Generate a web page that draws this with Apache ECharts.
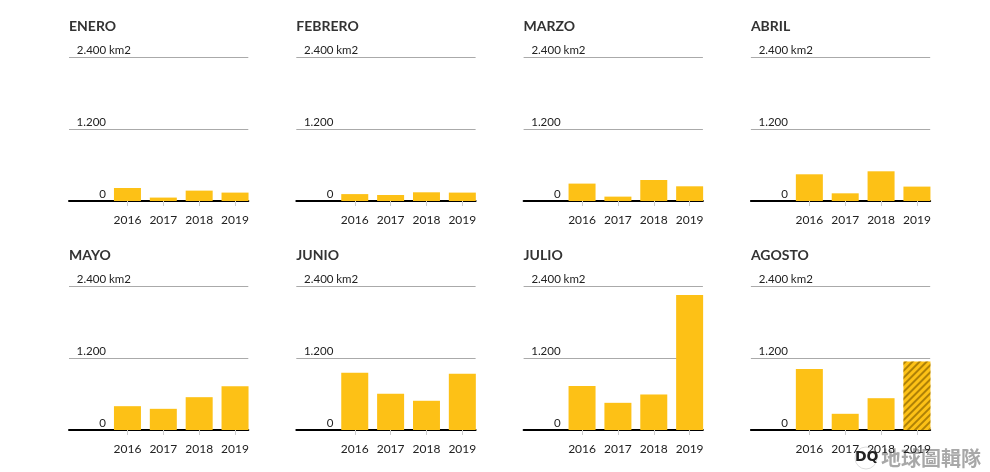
<!DOCTYPE html>
<html>
<head>
<meta charset="utf-8">
<script src="https://cdn.jsdelivr.net/npm/echarts@6/dist/echarts.min.js"></script>
<style>
  html, body { margin: 0; padding: 0; background: #fff; }
  #chart { width: 990px; height: 472px; }
</style>
</head>
<body>
<div id="chart"></div>
<script>
// superficie por mes (km2)
var months = ['ENERO', 'FEBRERO', 'MARZO', 'ABRIL', 'MAYO', 'JUNIO', 'JULIO', 'AGOSTO'];
var years = [2016, 2017, 2018, 2019];
var enero = [217, 57, 173, 140];
var febrero = [115, 100, 145, 140];
var marzo = [290, 73, 350, 245];
var abril = [445, 128, 495, 240];
var mayo = [397, 353, 547, 730];
var junio = [953, 603, 487, 937];
var julio = [733, 453, 592, 2250];
var agosto = [1015, 270, 530, 1140];
var yTicks = [0, 1200, 2400];
var monthData = [enero, febrero, marzo, abril, mayo, junio, julio, agosto];

var YELLOW = '#FDC116';
var FONT = 'Lato';

var myChart = echarts.init(document.getElementById('chart'));

function fmt(v) {
    var s = String(v);
    return s.length > 3 ? s.slice(0, s.length - 3) + '.' + s.slice(-3) : s;
}

var grid = [], xAxis = [], yAxis = [], series = [], title = [];

months.forEach(function (m, i) {
    var col = i % 4, row = Math.floor(i / 4);
    var left = 69 + col * 227.3;
    var top = 57 + row * 229;

    title.push({
        text: m,
        left: left,
        top: top - 38,
        padding: 0,
        textStyle: { fontFamily: FONT, fontSize: 14, fontWeight: 'bold', color: '#333' }
    });

    grid.push({ left: left, top: top, width: 179.3, height: 144 });

    xAxis.push({
        type: 'value',
        gridIndex: i,
        min: 2014.37,
        max: 2019.37,
        splitLine: { show: false },
        axisLine: { show: true, onZero: false, lineStyle: { color: '#000', width: 2 } },
        axisTick: { show: true, customValues: years, length: 5, lineStyle: { color: '#ccc' } },
        axisLabel: {
            customValues: years,
            margin: 13,
            fontFamily: FONT,
            fontSize: 12,
            color: '#222',
            formatter: function (v) { return String(v); }
        }
    });

    yAxis.push({
        type: 'value',
        gridIndex: i,
        min: 0,
        max: 2400,
        interval: 1200,
        axisLine: { show: false },
        axisTick: { show: false },
        splitLine: { lineStyle: { color: '#aaa', width: 1 } },
        axisLabel: {
            inside: true,
            margin: 8,
            verticalAlign: 'bottom',
            showMaxLabel: true,
            showMinLabel: true,
            padding: [0, 0, 1, 0],
            formatter: function (v) {
                if (yTicks.indexOf(v) < 0) return '';
                return v === 2400 ? '{n|' + fmt(v) + '}{u| km2}' : '{n|' + fmt(v) + '}';
            },
            rich: {
                n: { width: 29, align: 'right', fontFamily: FONT, fontSize: 11.5, color: '#222' },
                u: { fontFamily: FONT, fontSize: 11.5, color: '#222' }
            }
        }
    });

    var vals = monthData[i];
    series.push({
        type: 'bar',
        xAxisIndex: i,
        yAxisIndex: i,
        barWidth: 27,
        silent: true,
        itemStyle: { color: YELLOW },
        data: years.map(function (y, k) {
            var item = { value: [y, vals[k]] };
            // agosto 2019: dato parcial, rayado
            if (i === 7 && k === 3) {
                item.itemStyle = {
                    color: YELLOW,
                    decal: {
                        symbol: 'rect',
                        symbolSize: 1,
                        dashArrayX: [1, 0],
                        dashArrayY: [2, 2.2],
                        rotation: -Math.PI / 4,
                        color: 'rgba(150,108,0,0.75)'
                    }
                };
            }
            return item;
        })
    });
});

var option = {
    animation: false,
    backgroundColor: '#fff',
    title: title,
    grid: grid,
    xAxis: xAxis,
    yAxis: yAxis,
    series: series,
    graphic: [
        {
            type: 'circle',
            shape: { cx: 866, cy: 458, r: 11 },
            style: { fill: 'rgba(255,255,255,0.85)', stroke: '#ddd', lineWidth: 1 }
        },
        {
            type: 'text',
            left: 855,
            top: 450,
            style: { text: 'DQ', font: 'bold 14px "DejaVu Sans"', fill: '#222' }
        },
        {
            type: 'text',
            left: 880,
            top: 447,
            style: {
                text: '地球圖輯隊',
                font: 'bold 20px "Noto Sans CJK TC"',
                fill: '#a8a8a8',
                stroke: '#fff',
                lineWidth: 2
            }
        }
    ]
};

myChart.setOption(option);
</script>
</body>
</html>
